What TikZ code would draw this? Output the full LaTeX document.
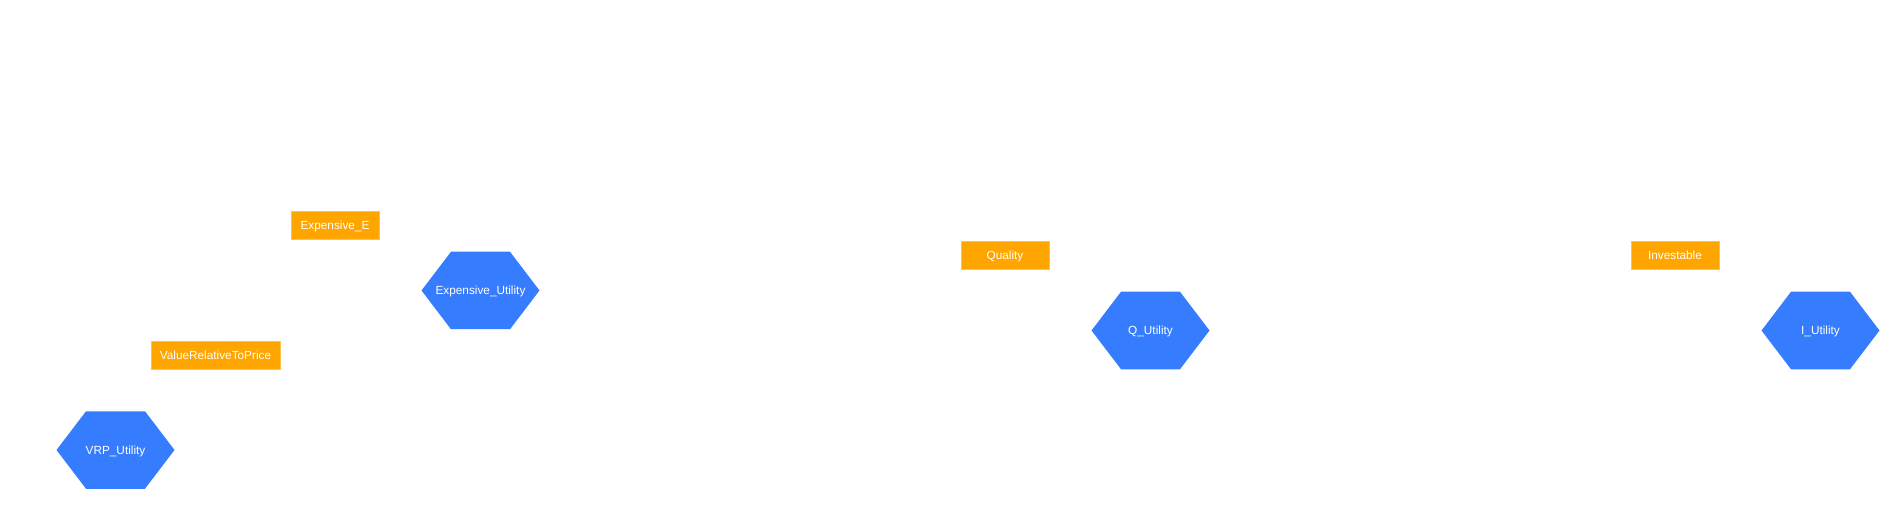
\documentclass[tikz,border=0pt]{standalone}
\usepackage{fontspec}
\setmainfont{Liberation Sans}
\usetikzlibrary{backgrounds}
\definecolor{boxorange}{HTML}{FFA500}
\definecolor{boxedge}{HTML}{FFC24D}
\definecolor{hexblue}{HTML}{367CFF}
\tikzset{
  lbl/.style={text=white, font=\fontsize{11.8}{14}\selectfont, inner sep=0pt, text height=8.45pt, text depth=0pt},
  varbox/.style={lbl, fill=boxorange, draw=boxedge, line width=0.6pt, minimum height=27.5pt},
  hexfill/.style={fill=hexblue}
}
\newcommand\hexbg[1]{%
  \fill[hexfill] ([xshift=-59pt]#1.center) -- ([xshift=-29.5pt,yshift=38.75pt]#1.center)
    -- ([xshift=29.5pt,yshift=38.75pt]#1.center) -- ([xshift=59pt]#1.center)
    -- ([xshift=29.5pt,yshift=-38.75pt]#1.center) -- ([xshift=-29.5pt,yshift=-38.75pt]#1.center) -- cycle;}
\begin{document}
\begin{tikzpicture}[x=1pt,y=-1pt]
\useasboundingbox (0,0) rectangle (1901,521);
\node[varbox, minimum width=88pt] (ee) at (335,225.5) {Expensive\_E};
\node[varbox, minimum width=129pt] (vrp) at (215.5,355.5) {ValueRelativeToPrice};
\node[varbox, minimum width=88pt] (q) at (1005,255.5) {Quality};
\node[varbox, minimum width=88pt] (inv) at (1675,255.5) {Investable};
\node[lbl] (eu) at (480.5,290.5) {Expensive\_Utility};
\node[lbl] (vu) at (115.5,450) {VRP\_Utility};
\node[lbl] (qu) at (1150.5,330.5) {Q\_Utility};
\node[lbl] (iu) at (1820.5,330.5) {I\_Utility};
\begin{scope}[on background layer]
\hexbg{eu}
\hexbg{vu}
\hexbg{qu}
\hexbg{iu}
\end{scope}
\end{tikzpicture}
\end{document}
